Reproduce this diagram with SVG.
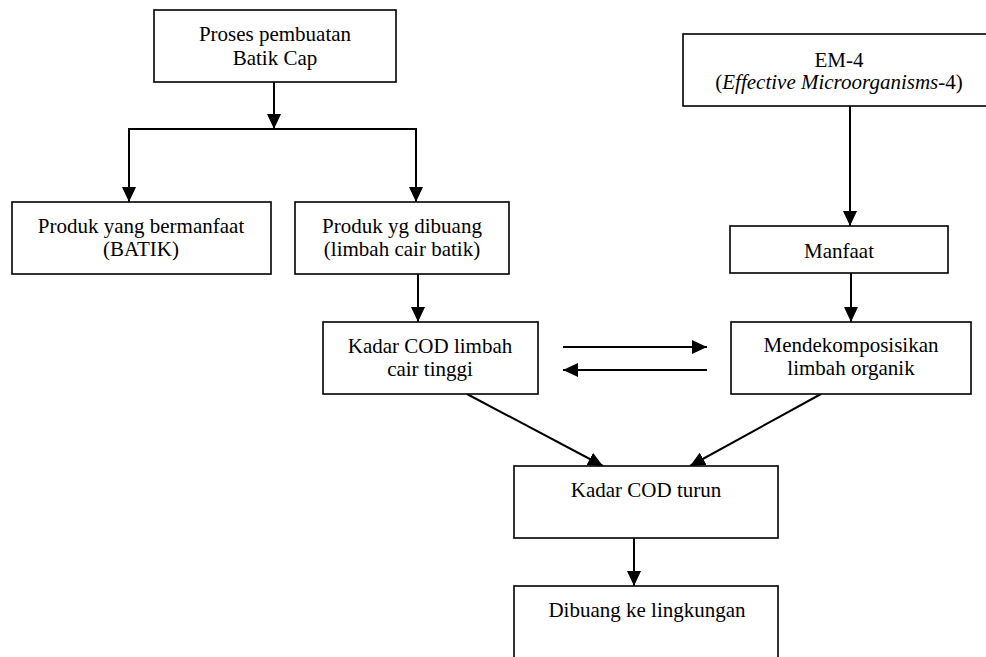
<svg xmlns="http://www.w3.org/2000/svg" width="986" height="657" viewBox="0 0 986 657">
<style>
.box{fill:#fff;stroke:#000;stroke-width:1.6}
.t{font-family:'Liberation Serif','Times New Roman',Times,'DejaVu Serif',serif;font-size:21px;fill:#000;text-anchor:middle}
.c{stroke:#000;stroke-width:2;fill:none}
</style>
<defs>
<marker id="ah" markerUnits="userSpaceOnUse" markerWidth="15" markerHeight="14" refX="15" refY="7" orient="auto">
<path d="M0,0 L15,7 L0,14 z" fill="#000"/>
</marker>
</defs>
<rect width="986" height="657" fill="#fff"/>
<g id="connectors">
<line class="c" x1="274" y1="82" x2="274" y2="129" marker-end="url(#ah)"/>
<line class="c" x1="128" y1="129" x2="417" y2="129"/>
<line class="c" x1="129" y1="129" x2="129" y2="202" marker-end="url(#ah)"/>
<line class="c" x1="416" y1="129" x2="416" y2="202" marker-end="url(#ah)"/>
<line class="c" x1="418" y1="274" x2="418" y2="322" marker-end="url(#ah)"/>
<line class="c" x1="850" y1="106" x2="850" y2="226" marker-end="url(#ah)"/>
<line class="c" x1="851" y1="273" x2="851" y2="322" marker-end="url(#ah)"/>
<line class="c" x1="563" y1="347" x2="707" y2="347" marker-end="url(#ah)"/>
<line class="c" x1="707" y1="370" x2="563" y2="370" marker-end="url(#ah)"/>
<line class="c" x1="467" y1="394" x2="603" y2="466" marker-end="url(#ah)"/>
<line class="c" x1="821" y1="394" x2="690" y2="466" marker-end="url(#ah)"/>
<line class="c" x1="634" y1="538" x2="634" y2="586" marker-end="url(#ah)"/>
</g>
<g id="n1"><rect class="box" x="154" y="10" width="242" height="72"/><text class="t" font-family="Liberation Serif, serif" x="275" y="41">Proses pembuatan</text><text class="t" font-family="Liberation Serif, serif" x="275" y="65">Batik Cap</text></g>
<g id="n2"><rect class="box" x="683" y="34" width="320" height="72"/><text class="t" font-family="Liberation Serif, serif" x="839" y="67">EM-4</text><text class="t" font-family="Liberation Serif, serif" x="839" y="89">(<tspan font-style="italic">Effective Microorganisms</tspan>-4)</text></g>
<g id="n3"><rect class="box" x="12" y="202" width="259" height="72"/><text class="t" font-family="Liberation Serif, serif" x="141" y="233">Produk yang bermanfaat</text><text class="t" font-family="Liberation Serif, serif" x="141" y="256">(BATIK)</text></g>
<g id="n4"><rect class="box" x="295" y="202" width="214" height="72"/><text class="t" font-family="Liberation Serif, serif" x="402" y="233">Produk yg dibuang</text><text class="t" font-family="Liberation Serif, serif" x="402" y="256">(limbah cair batik)</text></g>
<g id="n5"><rect class="box" x="730" y="226" width="218" height="47"/><text class="t" font-family="Liberation Serif, serif" x="839" y="258">Manfaat</text></g>
<g id="n6"><rect class="box" x="323" y="322" width="215" height="72"/><text class="t" font-family="Liberation Serif, serif" x="430" y="353">Kadar COD limbah</text><text class="t" font-family="Liberation Serif, serif" x="430" y="376">cair tinggi</text></g>
<g id="n7"><rect class="box" x="731" y="322" width="240" height="72"/><text class="t" font-family="Liberation Serif, serif" x="851" y="352">Mendekomposisikan</text><text class="t" font-family="Liberation Serif, serif" x="851" y="375">limbah organik</text></g>
<g id="n8"><rect class="box" x="514" y="466" width="264" height="72"/><text class="t" font-family="Liberation Serif, serif" x="646" y="497">Kadar COD turun</text></g>
<g id="n9"><rect class="box" x="514" y="586" width="264" height="90"/><text class="t" font-family="Liberation Serif, serif" x="647" y="617">Dibuang ke lingkungan</text></g>
</svg>
